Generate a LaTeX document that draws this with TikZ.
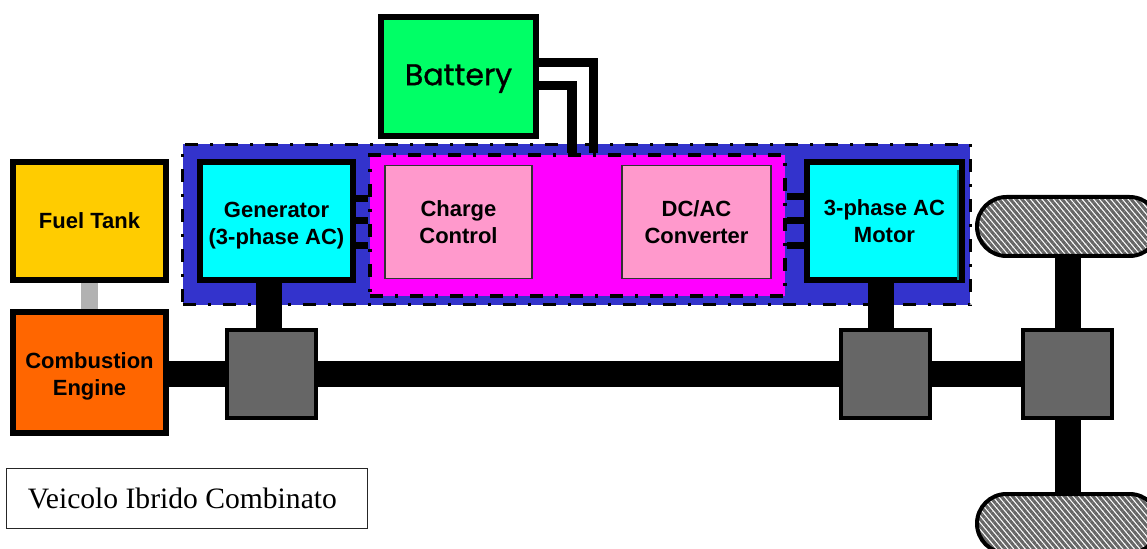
\documentclass[tikz,border=0pt]{standalone}
\usepackage{fontspec}
\setmainfont{Liberation Serif}
\setsansfont{Liberation Sans}
\newfontfamily\batteryfont[FakeBold=1]{Poppins}
\usetikzlibrary{patterns.meta,shapes.misc}
\definecolor{areablue}{HTML}{3333CC}
\definecolor{areapink}{HTML}{FF00FF}
\definecolor{unitcyan}{HTML}{00FFFF}
\definecolor{tankyellow}{HTML}{FFCC00}
\definecolor{engineorange}{HTML}{FF6600}
\definecolor{batterygreen}{HTML}{00FF66}
\definecolor{controlpink}{HTML}{FF99CC}
\definecolor{geargray}{HTML}{666666}
\newcommand{\lift}[1]{\rule{0pt}{#1pt}}
\begin{document}
\begin{tikzpicture}[x=.75pt, y=-.75pt,
		sized/.style 2 args={minimum width=#1*.75pt, minimum height=#2*.75pt},
		label font/.style={align=center, font=\sffamily\bfseries\fontsize{16.5}{20}\selectfont},
		area/.style={draw, inner sep=0, line width=2.25pt, dash pattern=on 9.75pt off 9pt on 2.25pt off 9pt},
		block/.style={draw, inner sep=0, line width=4.5pt, label font},
		inner block/.style={draw=black!80, inner sep=0, line width=.8pt, fill=controlpink, label font},
		gear/.style={draw, inner sep=0, line width=3pt, fill=geargray, sized={89}{88}},
		wheel/.style={draw, rounded rectangle, inner sep=0, line width=3pt, sized={182}{59},
			pattern={Lines[angle=-50, distance=3.3pt, line width=2.3pt]}, pattern color=geargray},
		shaft/.style={line width=19.5pt},
		wire/.style={line width=7pt},
		link/.style={line width=12.75pt, black!30}
		]
	\useasboundingbox (0,0) rectangle (1147,549);
	\node [area, fill=areablue, sized={787.5}{160.5}] (hybrid) at (576.25,224.75) {};
	\node [area, fill=areapink, line width=3pt, sized={415}{141}] (control) at (577.5,225.5) {};
	\node [draw, inner sep=0, line width=4.5pt, fill=batterygreen, text height=18pt, text depth=5pt, sized={155}{119}, font=\batteryfont\fontsize{22.5}{26}\selectfont] (battery) at (458.5,76.5) {Battery};
	\node [block, fill=unitcyan, sized={153}{118}] (generator) at (276.5,221) {\lift{18}Generator\\(3-phase AC)};
	\node [block, fill=unitcyan, sized={155}{118}] (motor) at (884.5,221) {3-phase AC\\Motor};
	\node [inner block, sized={147}{112.5}] (charge) at (458.5,222) {Charge\\Control};
	\node [inner block, sized={149}{112.5}] (converter) at (696.5,222) {DC/AC\\Converter};
	\node [block, fill=tankyellow, sized={153}{118}] (tank) at (89.5,221) {Fuel Tank};
	\node [block, fill=engineorange, sized={153}{121}] (engine) at (89.5,372.5) {\lift{18}Combustion\\Engine};
	\node [gear] (gearA) at (271.5,374) {};
	\node [gear] (gearB) at (885,374) {};
	\node [gear] (gearC) at (1067.5,374) {};
	\node [wheel] (wheelA) at (1068,226.5) {};
	\node [wheel] (wheelB) at (1068,523.5) {};
	\node [draw, line width=1pt, black!85, text=black, inner sep=0, sized={361}{60}, font=\fontsize{22.2}{26}\selectfont] (caption) at (187,498.5) {Veicolo Ibrido Combinato\hspace*{7pt}};

	\coordinate (wireA) at (572,85.5);
	\coordinate (wireB) at (593.5,62.5);
	\draw [wire] (battery.east |- wireA) -- (wireA) -- (wireA |- control.north);
	\draw [wire] (battery.east |- wireB) -- (wireB) -- (wireB |- control.north);
	\foreach \i/\y in {1/198.5, 2/221, 3/246} {
		\coordinate (genwire\i) at (360,\y);
		\draw [line width=5.25pt] (generator.east |- genwire\i) -- (control.west |- genwire\i);
	}
	\foreach \i/\y in {1/196.5, 2/221, 3/246} {
		\coordinate (motwire\i) at (795,\y);
		\draw [line width=5.25pt] (control.east |- motwire\i) -- (motor.west |- motwire\i);
	}
	\coordinate (genshaft) at (269,300);
	\coordinate (motshaft) at (881,300);
	\draw [shaft] (generator.south -| genshaft) -- (gearA.north -| genshaft);
	\draw [shaft] (motor.south -| motshaft) -- (gearB.north -| motshaft);
	\draw [shaft] (engine.east |- gearA.west) -- (gearA.west);
	\draw [shaft] (gearA.east) -- (gearB.west);
	\draw [shaft] (gearB.east) -- (gearC.west);
	\draw [shaft] (wheelA.south) -- (gearC.north -| wheelA.south);
	\draw [shaft] (gearC.south -| wheelB.north) -- (wheelB.north);
	\draw [link] (tank.south) -- (engine.north);

	\coordinate (motline) at (958,200);
	\draw [line width=.9pt, unitcyan!55!black] ([yshift=-2pt]motor.north -| motline) ++(0,8) -- ([yshift=2pt]motor.south -| motline);
\end{tikzpicture}
\end{document}
